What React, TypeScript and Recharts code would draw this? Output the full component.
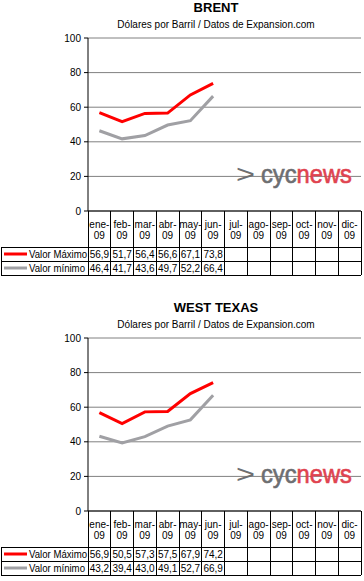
import React from "react"
import { LineChart, Line, XAxis, YAxis, CartesianGrid } from "recharts"

const months = ["ene-09", "feb-09", "mar-09", "abr-09", "may-09", "jun-09", "jul-09", "ago-09", "sep-09", "oct-09", "nov-09", "dic-09"]
const yTicks = [0, 20, 40, 60, 80, 100]

const brentMax = [56.9, 51.7, 56.4, 56.6, 67.1, 73.8]
const brentMin = [46.4, 41.7, 43.6, 49.7, 52.2, 66.4]
const wtiMax = [56.9, 50.5, 57.3, 57.5, 67.9, 74.2]
const wtiMin = [43.2, 39.4, 43.0, 49.1, 52.7, 66.9]

const FONT = '"Liberation Sans", Arial, sans-serif'
const W = 364
const H = 276
const PLOT_LEFT = 88
const PLOT_RIGHT = 361
const PLOT_TOP = 38
const PLOT_BOTTOM = 211
const BW = (PLOT_RIGHT - PLOT_LEFT) / 12
const CAT_H = 36
const ROW_H = 14

const fmt = (v?: number) => (v == null ? "" : v.toFixed(1).replace(".", ","))

function TableTick(props: any) {
  const { x, payload, maxVals, minVals } = props
  const i = payload.index
  const y = PLOT_BOTTOM
  const left = x - BW / 2
  const right = x + BW / 2
  const r1 = y + CAT_H
  const r2 = r1 + ROW_H
  const r3 = r2 + ROW_H
  const [m, yr] = String(payload.value).split("-")
  const line = { stroke: "#000", strokeWidth: 1, shapeRendering: "crispEdges" as const }
  return (
    <g fontFamily={FONT} fontSize={10} fill="#000">
      <line x1={right} x2={right} y1={y} y2={r3} {...line} />
      {i === 0 && (
        <g>
          <line x1={left} x2={left} y1={y} y2={r3} {...line} />
          <line x1={1} x2={left} y1={r1} y2={r1} {...line} />
          <line x1={1} x2={left} y1={r2} y2={r2} {...line} />
          <line x1={1} x2={left} y1={r3} y2={r3} {...line} />
          <line x1={1} x2={1} y1={r1} y2={r3} {...line} />
          <line x1={4} x2={27} y1={r1 + 7} y2={r1 + 7} stroke="#ff0000" strokeWidth={3} />
          <line x1={4} x2={27} y1={r2 + 7} y2={r2 + 7} stroke="#a0a0a4" strokeWidth={3} />
          <text x={29} y={r1 + 11} textAnchor="start" textLength={58} lengthAdjust="spacingAndGlyphs">Valor Máximo</text>
          <text x={29} y={r2 + 11} textAnchor="start" textLength={56} lengthAdjust="spacingAndGlyphs">Valor mínimo</text>
        </g>
      )}
      <line x1={left} x2={right} y1={r1} y2={r1} {...line} />
      <line x1={left} x2={right} y1={r2} y2={r2} {...line} />
      <line x1={left} x2={right} y1={r3} y2={r3} {...line} />
      <text x={x} y={y + 17} textAnchor="middle">{m}-</text>
      <text x={x} y={y + 28} textAnchor="middle">{yr}</text>
      <text x={x} y={r1 + 11} textAnchor="middle">{fmt(maxVals[i])}</text>
      <text x={x} y={r2 + 11} textAnchor="middle">{fmt(minVals[i])}</text>
    </g>
  )
}

function OilChart({ title, maxVals, minVals, top }: { title: string; maxVals: number[]; minVals: number[]; top: number }) {
  const data = months.map((m, i) => ({ month: m, max: maxVals[i] ?? null, min: minVals[i] ?? null }))
  return (
    <div style={{ position: "absolute", left: 0, top, width: W, height: H, fontFamily: FONT }}>
      <div style={{ position: "absolute", left: 116, top: 0, width: 200, textAlign: "center", fontSize: 13, fontWeight: "bold", lineHeight: "16px" }}>
        {title}
      </div>
      <div style={{ position: "absolute", left: 96, top: 18, width: 240, textAlign: "center", fontSize: 10, lineHeight: "13px" }}>
        Dólares por Barril / Datos de Expansion.com
      </div>
      <div style={{ position: "absolute", left: 0, top: 0 }}>
        <LineChart width={W} height={H} data={data} margin={{ top: PLOT_TOP, right: W - PLOT_RIGHT, bottom: 0, left: 0 }}>
          <CartesianGrid horizontal vertical={false} stroke="#808080" strokeWidth={1} />
          <XAxis
            dataKey="month"
            scale="band"
            interval={0}
            height={H - PLOT_BOTTOM}
            tickSize={0}
            tickMargin={0}
            tickLine={false}
            axisLine={{ stroke: "#000" }}
            tick={<TableTick maxVals={maxVals} minVals={minVals} />}
          />
          <YAxis
            domain={[0, 100]}
            ticks={yTicks}
            width={PLOT_LEFT}
            tickSize={4}
            tickMargin={3}
            axisLine={{ stroke: "#000" }}
            tickLine={{ stroke: "#000" }}
            tick={{ fill: "#000", fontSize: 10, fontFamily: FONT }}
          />
          <YAxis yAxisId="r" orientation="right" width={0} domain={[0, 100]} tick={false} tickLine={false} axisLine={{ stroke: "#808080" }} />
          <Line type="linear" dataKey="max" stroke="#ff0000" strokeWidth={3} dot={false} isAnimationActive={false} />
          <Line type="linear" dataKey="min" stroke="#a0a0a4" strokeWidth={3} dot={false} isAnimationActive={false} />
        </LineChart>
      </div>
      <svg width={W} height={H} style={{ position: "absolute", left: 0, top: 0, pointerEvents: "none" }}>
        <text x={236} y={183} fontFamily={FONT} fontSize={26} fill="#6d6e71" textLength={19} lengthAdjust="spacingAndGlyphs">{">"}</text>
        <text x={261} y={183} fontFamily={FONT} fontSize={25} strokeWidth={0.6} textLength={91} lengthAdjust="spacingAndGlyphs">
          <tspan fill="#6d6e71" stroke="#6d6e71">cyc</tspan>
          <tspan fill="#e0434f" stroke="#e0434f">news</tspan>
        </text>
      </svg>
    </div>
  )
}

export default function App() {
  return (
    <div style={{ position: "relative", width: W, height: 581, background: "#fff" }}>
      <style>{"body{margin:0}"}</style>
      <OilChart title="BRENT" maxVals={brentMax} minVals={brentMin} top={0} />
      <OilChart title="WEST TEXAS" maxVals={wtiMax} minVals={wtiMin} top={300} />
    </div>
  )
}
